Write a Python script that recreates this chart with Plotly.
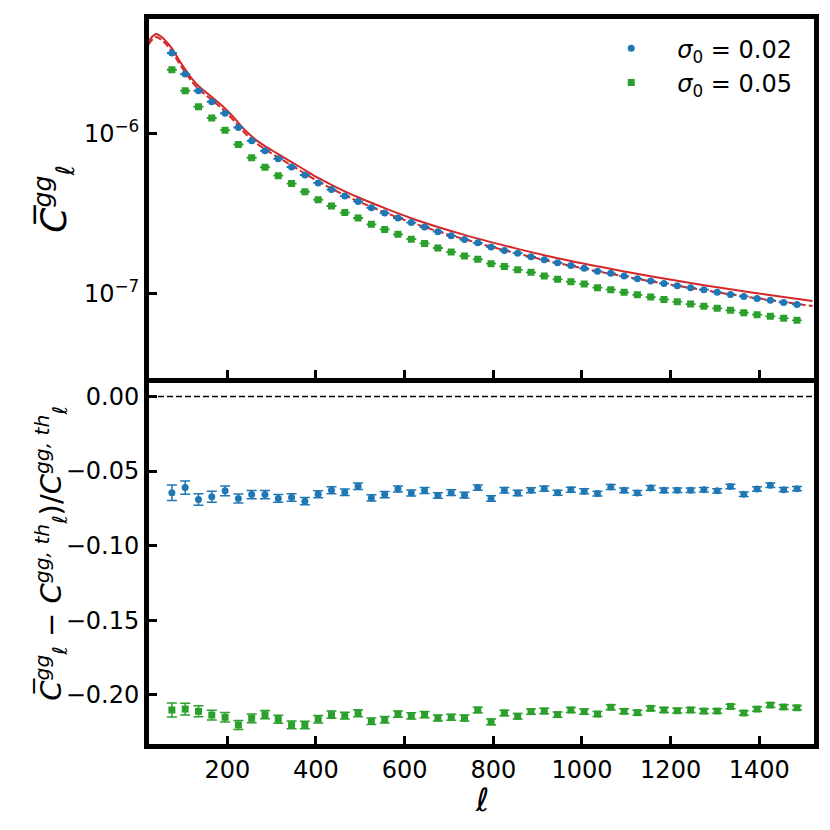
import plotly.graph_objects as go
from plotly.subplots import make_subplots

# multipole bin centres
ell = [75, 105, 135, 165, 195, 225, 255, 285, 315, 345, 375, 405, 435, 465, 495, 525,
       555, 585, 615, 645, 675, 705, 735, 765, 795, 825, 855, 885, 915, 945, 975, 1005,
       1035, 1065, 1095, 1125, 1155, 1185, 1215, 1245, 1275, 1305, 1335, 1365, 1395,
       1425, 1455, 1485]

# measured C_ell^gg, sigma_0 = 0.02
cl_s002 = [3.18e-6, 2.35e-6, 1.85e-6, 1.58e-6, 1.34e-6, 1.09e-6, 9.00e-7, 7.80e-7,
           6.96e-7, 6.18e-7, 5.51e-7, 4.92e-7, 4.47e-7, 4.07e-7, 3.77e-7, 3.44e-7,
           3.19e-7, 2.97e-7, 2.78e-7, 2.61e-7, 2.44e-7, 2.30e-7, 2.18e-7, 2.08e-7,
           1.96e-7, 1.86e-7, 1.79e-7, 1.70e-7, 1.63e-7, 1.56e-7, 1.50e-7, 1.44e-7,
           1.38e-7, 1.34e-7, 1.29e-7, 1.24e-7, 1.20e-7, 1.16e-7, 1.12e-7, 1.09e-7,
           1.06e-7, 1.02e-7, 9.90e-8, 9.62e-8, 9.35e-8, 9.09e-8, 8.83e-8, 8.58e-8]

# measured C_ell^gg, sigma_0 = 0.05
cl_s005 = [2.50e-6, 1.85e-6, 1.47e-6, 1.25e-6, 1.05e-6, 8.55e-7, 7.06e-7, 6.16e-7,
           5.46e-7, 4.87e-7, 4.33e-7, 3.86e-7, 3.53e-7, 3.21e-7, 2.97e-7, 2.71e-7,
           2.52e-7, 2.35e-7, 2.19e-7, 2.06e-7, 1.93e-7, 1.82e-7, 1.72e-7, 1.64e-7,
           1.54e-7, 1.48e-7, 1.41e-7, 1.36e-7, 1.29e-7, 1.23e-7, 1.19e-7, 1.15e-7,
           1.09e-7, 1.06e-7, 1.02e-7, 9.85e-8, 9.53e-8, 9.22e-8, 8.91e-8, 8.62e-8,
           8.34e-8, 8.11e-8, 7.88e-8, 7.62e-8, 7.40e-8, 7.23e-8, 7.03e-8, 6.83e-8]

# relative deviation from theory
dev_s002 = [-0.0645, -0.0611, -0.0691, -0.0673, -0.0633, -0.0684, -0.0658, -0.0658,
            -0.0684, -0.0678, -0.0702, -0.0656, -0.0629, -0.0642, -0.0602, -0.0680,
            -0.0658, -0.0620, -0.0647, -0.0631, -0.0664, -0.0645, -0.0662, -0.0611,
            -0.0684, -0.0629, -0.0647, -0.0629, -0.0618, -0.0645, -0.0625, -0.0636,
            -0.0651, -0.0607, -0.0629, -0.0647, -0.0613, -0.0629, -0.0629, -0.0629,
            -0.0625, -0.0633, -0.0604, -0.0656, -0.0620, -0.0596, -0.0625, -0.0618]

dev_s005 = [-0.2102, -0.2096, -0.2111, -0.2136, -0.2151, -0.2202, -0.2158, -0.2133,
            -0.2164, -0.2202, -0.2202, -0.2164, -0.2133, -0.2140, -0.2124, -0.2178,
            -0.2167, -0.2129, -0.2142, -0.2133, -0.2156, -0.2151, -0.2156, -0.2102,
            -0.2182, -0.2122, -0.2144, -0.2113, -0.2109, -0.2133, -0.2102, -0.2113,
            -0.2129, -0.2084, -0.2111, -0.2120, -0.2091, -0.2102, -0.2107, -0.2102,
            -0.2109, -0.2109, -0.2078, -0.2122, -0.2096, -0.2069, -0.2082, -0.2087]

err_s002 = [0.0052, 0.0045, 0.0039, 0.0037, 0.0032, 0.0030, 0.0028, 0.0027, 0.0026,
            0.0025, 0.0024, 0.0023, 0.0023, 0.0022, 0.0022, 0.0021, 0.0021, 0.0020,
            0.0020, 0.0020, 0.0019, 0.0019, 0.0019, 0.0018, 0.0018, 0.0018, 0.0018,
            0.0017, 0.0017, 0.0017, 0.0017, 0.0017, 0.0016, 0.0016, 0.0016, 0.0016,
            0.0016, 0.0016, 0.0015, 0.0015, 0.0015, 0.0015, 0.0015, 0.0015, 0.0015,
            0.0015, 0.0014, 0.0014]

err_s005 = [0.0047, 0.0040, 0.0037, 0.0033, 0.0032, 0.0030, 0.0029, 0.0028, 0.0027,
            0.0026, 0.0025, 0.0025, 0.0024, 0.0023, 0.0023, 0.0022, 0.0022, 0.0021,
            0.0021, 0.0021, 0.0020, 0.0020, 0.0020, 0.0019, 0.0019, 0.0019, 0.0018,
            0.0018, 0.0018, 0.0018, 0.0017, 0.0017, 0.0017, 0.0017, 0.0017, 0.0016,
            0.0016, 0.0016, 0.0016, 0.0016, 0.0016, 0.0015, 0.0015, 0.0015, 0.0015,
            0.0015, 0.0015, 0.0015]

# theory curves
ell_th = [22, 30, 40, 50, 60, 75, 90, 105, 120, 135, 150, 165, 180, 195, 210, 225,
          240, 255, 270, 285, 315, 345, 375, 405, 435, 465, 495, 555, 615, 675, 735,
          795, 855, 915, 975, 1035, 1095, 1155, 1215, 1275, 1335, 1395, 1455, 1520]
cl_th_s002 = [3.735e-6, 4.01e-6, 4.18e-6, 4.04e-6, 3.815e-6, 3.40e-6, 2.91e-6, 2.52e-6,
              2.20e-6, 1.98e-6, 1.83e-6, 1.69e-6, 1.56e-6, 1.435e-6, 1.30e-6, 1.167e-6,
              1.048e-6, 9.62e-7, 8.90e-7, 8.34e-7, 7.44e-7, 6.64e-7, 5.92e-7, 5.28e-7,
              4.78e-7, 4.36e-7, 4.00e-7, 3.42e-7, 2.96e-7, 2.61e-7, 2.33e-7, 2.10e-7,
              1.906e-7, 1.74e-7, 1.60e-7, 1.483e-7, 1.378e-7, 1.285e-7, 1.204e-7,
              1.13e-7, 1.065e-7, 1.006e-7, 9.53e-8, 9.00e-8]
cl_th_s005 = [3.58e-6, 3.84e-6, 4.01e-6, 3.87e-6, 3.66e-6, 3.26e-6, 2.79e-6, 2.42e-6,
              2.11e-6, 1.895e-6, 1.75e-6, 1.62e-6, 1.497e-6, 1.375e-6, 1.244e-6, 1.118e-6,
              1.004e-6, 9.22e-7, 8.52e-7, 7.99e-7, 7.08e-7, 6.32e-7, 5.63e-7, 5.02e-7,
              4.53e-7, 4.12e-7, 3.78e-7, 3.22e-7, 2.79e-7, 2.45e-7, 2.19e-7, 1.967e-7,
              1.78e-7, 1.624e-7, 1.493e-7, 1.38e-7, 1.283e-7, 1.197e-7, 1.121e-7,
              1.053e-7, 9.92e-8, 9.37e-8, 8.87e-8, 8.38e-8]

blue = '#1f77b4'
green = '#2ca02c'
red = '#d62728'
font = 'DejaVu Sans'

fig = make_subplots(rows=2, cols=1, shared_xaxes=False, vertical_spacing=0.0)

# top panel: spectra
fig.add_trace(go.Scatter(x=ell_th, y=cl_th_s002, mode='lines', line_shape='spline',
                         line=dict(color=red, width=2), showlegend=False), row=1, col=1)
fig.add_trace(go.Scatter(x=ell_th, y=cl_th_s005, mode='lines', line_shape='spline',
                         line=dict(color=red, width=2, dash='7px,3px'), showlegend=False),
              row=1, col=1)
fig.add_trace(go.Scatter(x=ell, y=cl_s002, mode='markers',
                         marker=dict(color=blue, size=7, symbol='circle'),
                         error_y=dict(type='data', array=[c * e for c, e in zip(cl_s002, err_s002)],
                                      color=blue, thickness=1.5, width=5),
                         name='<i>σ</i><sub>0</sub> = 0.02'), row=1, col=1)
fig.add_trace(go.Scatter(x=ell, y=cl_s005, mode='markers',
                         marker=dict(color=green, size=7, symbol='square'),
                         error_y=dict(type='data', array=[c * e for c, e in zip(cl_s005, err_s005)],
                                      color=green, thickness=1.5, width=5),
                         name='<i>σ</i><sub>0</sub> = 0.05'), row=1, col=1)

# bottom panel: relative deviation
fig.add_trace(go.Scatter(x=ell, y=dev_s002, mode='markers',
                         marker=dict(color=blue, size=7, symbol='circle'),
                         error_y=dict(type='data', array=err_s002, color=blue,
                                      thickness=1.5, width=5),
                         showlegend=False), row=2, col=1)
fig.add_trace(go.Scatter(x=ell, y=dev_s005, mode='markers',
                         marker=dict(color=green, size=7, symbol='square'),
                         error_y=dict(type='data', array=err_s005, color=green,
                                      thickness=1.5, width=5),
                         showlegend=False), row=2, col=1)
fig.add_hline(y=0, line=dict(color='black', width=1.5, dash='6px,3px'), row=2, col=1)

axis_style = dict(showline=True, linecolor='black', linewidth=5, ticks='inside',
                  ticklen=8, tickwidth=3, tickcolor='black', showgrid=False,
                  zeroline=False, tickfont=dict(family=font, size=24, color='black'))

fig.update_xaxes(range=[23.4, 1523.4], tickvals=[200, 400, 600, 800, 1000, 1200, 1400],
                 **axis_style)
fig.update_xaxes(showticklabels=False, mirror=True, row=1, col=1)
fig.update_xaxes(mirror=False, row=2, col=1)
fig.update_yaxes(mirror=True, **axis_style)
fig.update_yaxes(type='log', range=[-7.523, -5.285], tickvals=[1e-7, 1e-6],
                 ticktext=['10<sup>−7</sup>', '10<sup>−6</sup>'], row=1, col=1)
fig.update_yaxes(range=[-0.233, 0.0127], tickvals=[0, -0.05, -0.1, -0.15, -0.2],
                 ticktext=['0.00', '−0.05', '−0.10', '−0.15', '−0.20'], row=2, col=1)

# page has an 8px body margin, so the figure is drawn a bit smaller
fig.update_layout(
    width=822, height=822,
    margin=dict(l=141, r=16, t=6, b=86),
    paper_bgcolor='white', plot_bgcolor='white',
    font=dict(family=font, color='black'),
    yaxis=dict(domain=[0.5055, 1.0]),
    yaxis2=dict(domain=[0.0, 0.5055]),
    legend=dict(x=0.656, y=0.99, xanchor='left', yanchor='top', itemwidth=82,
                font=dict(family=font, size=24), bgcolor='rgba(0,0,0,0)'),
    annotations=[
        dict(text='<i>C̅</i><sup><i>gg</i></sup><sub><i>ℓ</i></sub>', textangle=-90,
             xref='paper', yref='paper', x=-0.143, y=0.752, xanchor='center', yanchor='middle',
             showarrow=False, font=dict(family=font, size=36)),
        dict(text='<i>C̅</i><sup><i>gg</i></sup><sub><i>ℓ</i></sub> − '
                  '<i>C</i><sup><i>gg, th</i></sup><sub><i>ℓ</i></sub>)/'
                  '<i>C</i><sup><i>gg, th</i></sup><sub><i>ℓ</i></sub>',
             textangle=-90, xref='paper', yref='paper', x=-0.148, y=0.262,
             xanchor='center', yanchor='middle', showarrow=False,
             font=dict(family=font, size=29)),
        dict(text='<i>ℓ</i>', xref='paper', yref='paper', x=0.5, y=-0.077,
             xanchor='center', yanchor='middle', showarrow=False,
             font=dict(family=font, size=32)),
    ],
)

fig.write_html('out.html')
